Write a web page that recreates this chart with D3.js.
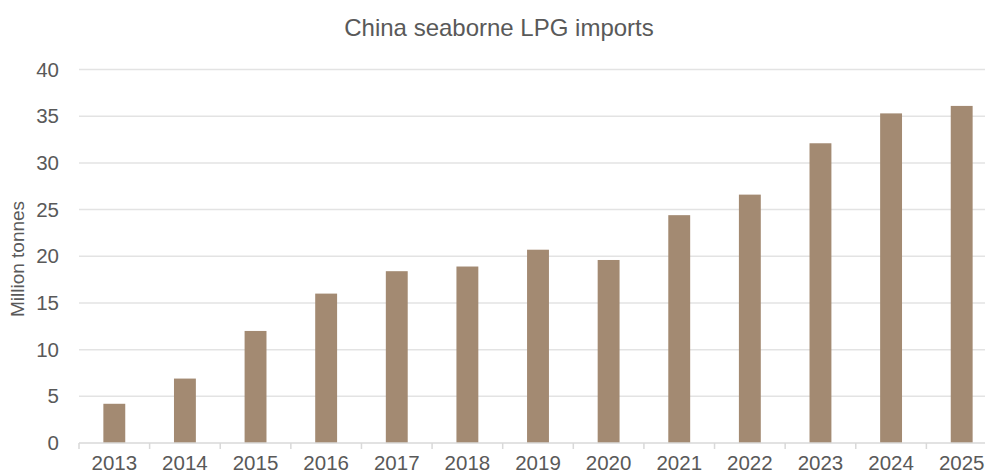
<!DOCTYPE html>
<html>
<head>
<meta charset="utf-8">
<script src="https://cdn.jsdelivr.net/npm/d3@7"></script>
<style>
  html, body { margin: 0; padding: 0; background: #fff; }
  svg { display: block; }
  text { font-family: "Liberation Sans", Arial, sans-serif; fill: #595959; }
</style>
</head>
<body>
<svg id="chart" width="985" height="473"></svg>
<script>
const categories = ["2013","2014","2015","2016","2017","2018","2019","2020","2021","2022","2023","2024","2025"];
const values = [4.2, 6.9, 12.0, 16.0, 18.4, 18.9, 20.7, 19.6, 24.4, 26.6, 32.1, 35.3, 36.1];
const yTicks = [0, 5, 10, 15, 20, 25, 30, 35, 40];
const chartTitle = "China seaborne LPG imports";
const yLabel = "Million tonnes";

(function () {
  const svg = d3.select("#chart");
  const plotLeft = 79, plotRight = 997, plotTop = 69.5, plotBottom = 443;

  const x = d3.scaleBand().domain(categories).range([plotLeft, plotRight]).paddingInner(0.69).paddingOuter(0.345);
  const y = d3.scaleLinear().domain([0, 40]).range([plotBottom, plotTop]);
  const step = x.step();

  // gridlines
  svg.append("g").selectAll("line").data(yTicks.filter(d => d > 0)).join("line")
    .attr("x1", plotLeft).attr("x2", 985)
    .attr("y1", d => y(d)).attr("y2", d => y(d))
    .attr("stroke", "#e3e3e3").attr("stroke-width", 1.5);

  // bars
  svg.append("g").selectAll("rect").data(categories).join("rect")
    .attr("x", d => x(d)).attr("width", x.bandwidth())
    .attr("y", (d, i) => y(values[i])).attr("height", (d, i) => y(0) - y(values[i]))
    .attr("fill", "#a38a72");

  // x axis baseline and boundary ticks
  svg.append("line").attr("x1", plotLeft).attr("x2", 985).attr("y1", plotBottom).attr("y2", plotBottom)
    .attr("stroke", "#d9d9d9").attr("stroke-width", 1.5);
  svg.append("g").selectAll("line").data(d3.range(categories.length + 1)).join("line")
    .attr("x1", i => plotLeft + i * step).attr("x2", i => plotLeft + i * step)
    .attr("y1", plotBottom).attr("y2", plotBottom + 6)
    .attr("stroke", "#d9d9d9").attr("stroke-width", 1.5);

  // x labels
  svg.append("g").selectAll("text").data(categories).join("text")
    .attr("x", d => x(d) + x.bandwidth() / 2).attr("y", 470)
    .attr("text-anchor", "middle").attr("font-size", 20.5)
    .text(d => d);

  // y labels
  svg.append("g").selectAll("text").data(yTicks).join("text")
    .attr("x", 59).attr("y", d => y(d)).attr("dy", "0.35em")
    .attr("text-anchor", "end").attr("font-size", 20.5)
    .text(d => d);

  // y axis title
  svg.append("text").attr("transform", "translate(24,259) rotate(-90)")
    .attr("text-anchor", "middle").attr("font-size", 19)
    .text(yLabel);

  // title
  svg.append("text").attr("x", 499).attr("y", 36)
    .attr("text-anchor", "middle").attr("font-size", 24)
    .text(chartTitle);
})();
</script>
</body>
</html>
